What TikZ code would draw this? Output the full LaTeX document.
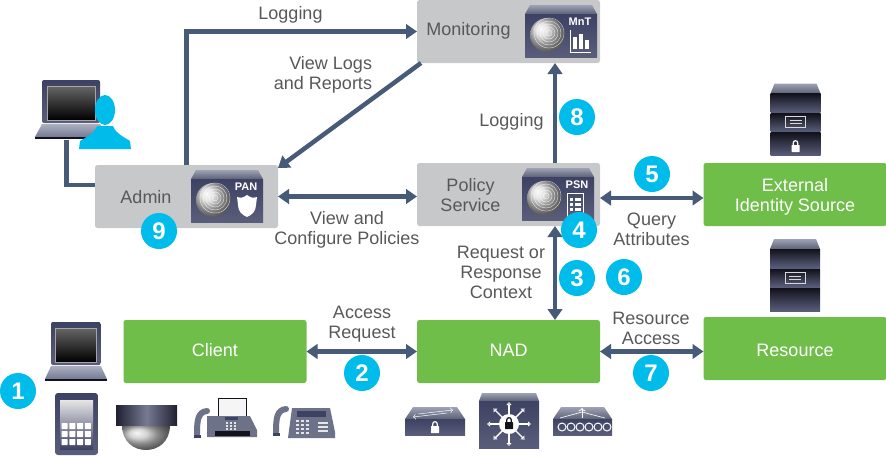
\documentclass[tikz,border=0pt]{standalone}
\usepackage{fontspec}
\setmainfont{Liberation Sans}
\usetikzlibrary{arrows.meta}
\definecolor{flowblue}{HTML}{475A78}
\definecolor{boxgreen}{HTML}{6FBE4A}
\definecolor{boxgray}{HTML}{C7C8CA}
\definecolor{badgecyan}{HTML}{00BCEB}
\definecolor{labelgray}{HTML}{58585B}
\definecolor{iconlight}{HTML}{757A94}
\definecolor{iconmid}{HTML}{3D4163}
\definecolor{icondark}{HTML}{12121C}
\definecolor{phonegray}{HTML}{6D7288}
\tikzset{
    facetop/.style={top color=iconlight!70!white,bottom color=iconlight!80!black},
    facebody/.style={top color=iconmid,middle color=icondark,bottom color=iconmid!85!white},
    facetier/.style={top color=icondark,bottom color=iconmid!85!white},
    % Small lock
    lockicon/.pic={
        \fill[white,rounded corners=.5pt] (-4,-1) rectangle (4,6);
        \draw[white,line width=1.2pt] (-2.3,-1) -- (-2.3,-3) .. controls (-2.3,-6) and (2.3,-6) .. (2.3,-3) -- (2.3,-1);
    },
    % Appliance with the fingerprint ball
    applianceicon/.pic={
        \shade[facetop] (5,0) -- (67,0) -- (72,9) -- (0,9) -- cycle;
        \shade[facebody] (0,9) rectangle (72,52);
        \shade[ball color=gray!30] (22,30) circle (17pt);
        \foreach \r in {3,6,...,15}
            \draw[white,opacity=.75,line width=.4pt] (24,28) circle (\r pt);
        \node (label) at (55,17) [text=white,inner sep=0,font=\bfseries\fontsize{11}{11}\selectfont] {#1};
    },
    % Laptop
    laptopicon/.pic={
        \shade[facebody,rounded corners=2pt] (7,0) rectangle (65,43);
        \shade[top color=gray!80!black,bottom color=black] (12,6) rectangle (60,40);
        \draw[gray!70,line width=.6pt] (12,6) rectangle (60,40);
        \shade[top color=iconlight!60!white,bottom color=iconlight] (7,44) -- (65,44) -- (72,57) -- (0,57) -- cycle;
        \fill[icondark] (0,57) rectangle (72,59);
    },
    % Server rack of three tiers
    racktop/.pic={
        \shade[facetop] (4,0) -- (46,0) -- (50,10) -- (0,10) -- cycle;
        \shade[facetier] (0,10) rectangle (50,29);
        \shade[facetier] (0,30) rectangle (50,48);
        \shade[facetier] (0,49) rectangle (50,72);
        \draw[white!85!black,line width=1pt] (15,33) rectangle (35,44);
        \draw[white!85!black,line width=.8pt] (19,37) -- (31,37);
        \draw[white!85!black,line width=.8pt] (19,40) -- (31,40);
    },
    % Handset shared by fax and phone
    handset/.pic={
        \draw[phonegray,line width=6pt,line cap=round] (13,3) .. controls (4,4) and (3,12) .. (3,26);
        \fill[iconmid] (0,27) -- (7,27) -- (7,30) -- (0,30) -- cycle;
    }
}
\begin{document}
\begin{tikzpicture}[x=1pt,y=-1pt]
    % Define styles - looks of boxes, arrows and texts
    \tikzstyle{greenbox} = [fill=boxgreen,rounded corners=2.5pt,minimum width=183,minimum height=63,inner sep=0,outer sep=0]
    \tikzstyle{graybox} = [fill=boxgray,rounded corners=2.5pt,minimum width=183,minimum height=63,inner sep=0,outer sep=0]
    \tikzstyle{boxtext} = [text=labelgray,align=center,inner sep=0,font=\fontsize{18}{20}\selectfont]
    \tikzstyle{greentext} = [text=white,align=center,inner sep=0,font=\fontsize{18}{20}\selectfont]
    \tikzstyle{flowarrow} = [line width=4.5pt,draw=flowblue,-{Triangle[width=14.5pt,length=11pt]}]
    \tikzstyle{flowboth} = [line width=4.5pt,draw=flowblue,{Triangle[width=14.5pt,length=11pt]}-{Triangle[width=14.5pt,length=11pt]}]
    \tikzstyle{flowline} = [line width=4.5pt,draw=flowblue]
    \tikzstyle{badge} = [shape=circle,fill=badgecyan,text=white,minimum size=36,inner sep=0,font=\bfseries\fontsize{24}{24}\selectfont]
    \useasboundingbox (0,0) rectangle (886,456);
    % Boxes
        % Cisco ISE personas
        \node (monitoring) at (508.5,31.5) [graybox] {};
        \node (policy) at (508.5,194.5) [graybox] {};
        \node (admin) at (186.5,196.5) [graybox] {};
        % Network elements
        \node (client) at (215,351.5) [greenbox] {};
        \node (nad) at (508.5,351.5) [greenbox] {};
        \node (resource) at (795,348.5) [greenbox] {};
        \node (external) at (795,194.5) [greenbox] {};
    % Texts in the boxes
        \node (monitoringtext) at (468.5,31) [boxtext] {Monitoring};
        \node (policytext) at (470.5,195) [boxtext] {Policy\\Service};
        \node (admintext) at (146,197) [boxtext] {Admin};
        \node (clienttext) at (215,350.5) [greentext] {Client};
        \node (nadtext) at (508.5,350.5) [greentext] {NAD};
        \node (resourcetext) at (795,350) [greentext] {Resource};
        \node (externaltext) at (795,197) [greentext] {External\\Identity Source};
    % Free end of the laptop link
        \coordinate (adminlaptop) at (66.5,140);
    % Lines and arrows
        % Admin to monitoring and back
            \draw [flowarrow] (admin.north) |- (monitoring.west);
            \draw [flowarrow] ([xshift=4pt]monitoring.south west) -- ([yshift=-3pt]admin.north east);
        % Laptop to admin
            \draw [flowline] (adminlaptop) |- ([yshift=11.5pt]admin.west);
        % Admin to policy service
            \draw [flowboth] (admin.east) -- (admin.east -| policy.west);
        % Policy service to monitoring
            \draw [flowarrow] ([xshift=46.5pt]policy.north) -- ([xshift=46.5pt]monitoring.south);
        % Policy service to external source
            \draw [flowboth] ([yshift=-3.5pt]policy.east) -- ([yshift=-3.5pt]external.west);
        % Policy service to NAD
            \draw [flowboth] ([xshift=46.5pt]policy.south) -- ([xshift=46.5pt]nad.north);
        % NAD to client and resource
            \draw [flowboth] (client.east) -- (nad.west);
            \draw [flowboth] (nad.east) -- (nad.east -| resource.west);
    % Labels of the arrows
        \node (logtop) at (290.5,15) [boxtext] {Logging};
        \node (viewlogs) at (323,75) [boxtext,align=right] {View Logs\\and Reports};
        \node (logright) at (511.5,122) [boxtext] {Logging};
        \node (viewpolicies) at (347,230) [boxtext] {View and\\Configure Policies};
        \node (query) at (651.5,229) [boxtext] {Query\\Attributes};
        \node (context) at (501,272) [boxtext] {Request or\\Response\\Context};
        \node (access) at (362,324) [boxtext] {Access\\Request};
        \node (resaccess) at (651,328) [boxtext] {Resource\\Access};
    % Appliances in the gray boxes
        % Monitoring
            \pic (mnt) at (525,5) {applianceicon=MnT};
            \draw[white,line width=1pt] (570,30) -- (570,52) -- (591,52);
            \fill[white] (573,37) rectangle (577,49);
            \fill[white] (579,34) rectangle (583,49);
            \fill[white] (585,40) rectangle (589,49);
        % Policy service
            \pic (psn) at (522,168) {applianceicon=PSN};
            \draw[white,line width=1pt] (567,193) -- (583,193) -- (583,218) -- (567,218) -- cycle;
            \foreach \y in {198,203,208} {
                \fill[white] (570,\y) rectangle (573,\y+3);
                \fill[white] (575,\y) rectangle (581,\y+3);
            }
        % Admin
            \pic (pan) at (191,170) {applianceicon=PAN};
            \fill[white] (247,195) .. controls (243,198) and (241,198) .. (237,197) -- (238,205) .. controls (238,211) and (242,215) .. (247,217) .. controls (252,215) and (256,211) .. (256,205) -- (257,197) .. controls (253,198) and (251,198) .. (247,195) -- cycle;
    % Admin laptop and user
        \pic at (35,80) {laptopicon};
        \fill[badgecyan] (105,110) ellipse (10pt and 15pt);
        \fill[badgecyan] (79,149) -- (80,141) .. controls (86,137) and (94,134) .. (97,126) -- (113,126) .. controls (116,134) and (124,137) .. (130,141) -- (131,149) -- cycle;
    % Client devices
        % Laptop
            \pic[xscale=.86] at (45,322) {laptopicon};
        % Tablet
            \shade[facebody,rounded corners=3pt] (55,393) rectangle (98,455);
            \shade[top color=gray!20,bottom color=iconmid] (60,400) rectangle (93,449);
            \foreach \x in {0,1,2,3}
                \foreach \y in {0,1,2}
                    \fill[white,rounded corners=.5pt] (61.5+\x*7.8,423+\y*8) rectangle (67.5+\x*7.8,429+\y*8);
        % Camera
            \shade[ball color=gray!45] (122,425) .. controls (122,442) and (134,450) .. (146,450) .. controls (158,450) and (170,442) .. (170,425) -- cycle;
            \shade[left color=iconmid!50!black,right color=iconmid!50!black,middle color=iconmid!70!white] (116,405) rectangle (177,425);
        % Fax
            \fill[white!92!gray,draw=icondark,line width=.5pt] (218,398) -- (246,398) -- (246,419) -- (218,419) -- cycle;
            \fill[phonegray] (207,416) -- (250,416) -- (257,430) -- (257,437) -- (207,437) -- cycle;
            \fill[icondark] (215,431) rectangle (250,436);
            \fill[iconmid] (225,417) rectangle (238,420);
            \foreach \x in {0,1,2}
                \foreach \y in {0,1,2}
                    \fill[white!80!gray] (226+\x*4,422+\y*3) rectangle (228+\x*4,423.5+\y*3);
            \pic at (194,408) {handset};
        % Phone
            \fill[phonegray] (292,408) -- (330,408) -- (335,432) -- (335,438) -- (288,438) -- cycle;
            \fill[iconmid] (297,411) rectangle (326,417);
            \foreach \x in {0,1,2}
                \foreach \y in {0,1,2,3}
                    \fill[white!80!gray] (296+\x*5,420+\y*4) rectangle (299+\x*5,422+\y*4);
            \foreach \y in {0,1,2}
                \fill[white!80!gray] (318,422+\y*4) rectangle (328,424+\y*4);
            \pic at (273,406) {handset};
    % NAD devices
        % Secure switch
            \shade[facetop] (413,407) -- (457,407) -- (465,419) -- (405,419) -- cycle;
            \shade[facebody] (405,419) rectangle (465,435);
            \draw[white,line width=.5pt,->] (418,414) -- (453,410);
            \draw[white,line width=.5pt,<-] (413,417) -- (447,413);
            \pic at (435,427) {lockicon};
        % Firewall
            \shade[facetop] (482,393) -- (536,393) -- (539,401) -- (479,401) -- cycle;
            \shade[facebody] (479,401) rectangle (539,448);
            \foreach \a in {0,45,...,315}
                \draw[white,line width=1.4pt,-{Triangle[open,width=5pt,length=3pt]}] (509,424) -- ++(\a:22pt);
            \fill[white] (509,424) circle (10pt);
            \begin{scope}[shift={(509,423)}]
                \fill[icondark,rounded corners=.5pt] (-4,-1) rectangle (4,6);
                \draw[icondark,line width=1.2pt] (-2.3,-1) -- (-2.3,-3) .. controls (-2.3,-6) and (2.3,-6) .. (2.3,-3) -- (2.3,-1);
            \end{scope}
        % Fabric router
            \shade[facetop] (561,407) -- (604,407) -- (612,419) -- (553,419) -- cycle;
            \shade[facebody] (553,419) rectangle (612,435);
            \draw[white,line width=.6pt] (560,418) -- (582,412) -- (605,418);
            \draw[white,line width=.8pt,->] (582,418) -- (582,408);
            \foreach \x in {562,571,...,607}
                \draw[white,line width=1pt] (\x,427) circle (4pt);
    % Server racks
        \pic at (770.5,83.5) {racktop};
        \pic at (795.5,146) {lockicon};
        \pic at (770,239) {racktop};
    % Step numbers
        \node (step1) at (18,391) [badge] {1};
        \node (step2) at (362,373) [badge] {2};
        \node (step3) at (577,278) [badge] {3};
        \node (step4) at (579,230) [badge] {4};
        \node (step5) at (652,174) [badge] {5};
        \node (step6) at (624,277) [badge] {6};
        \node (step7) at (651,373) [badge] {7};
        \node (step8) at (577,117) [badge] {8};
        \node (step9) at (159,231) [badge] {9};
\end{tikzpicture}
\end{document}
